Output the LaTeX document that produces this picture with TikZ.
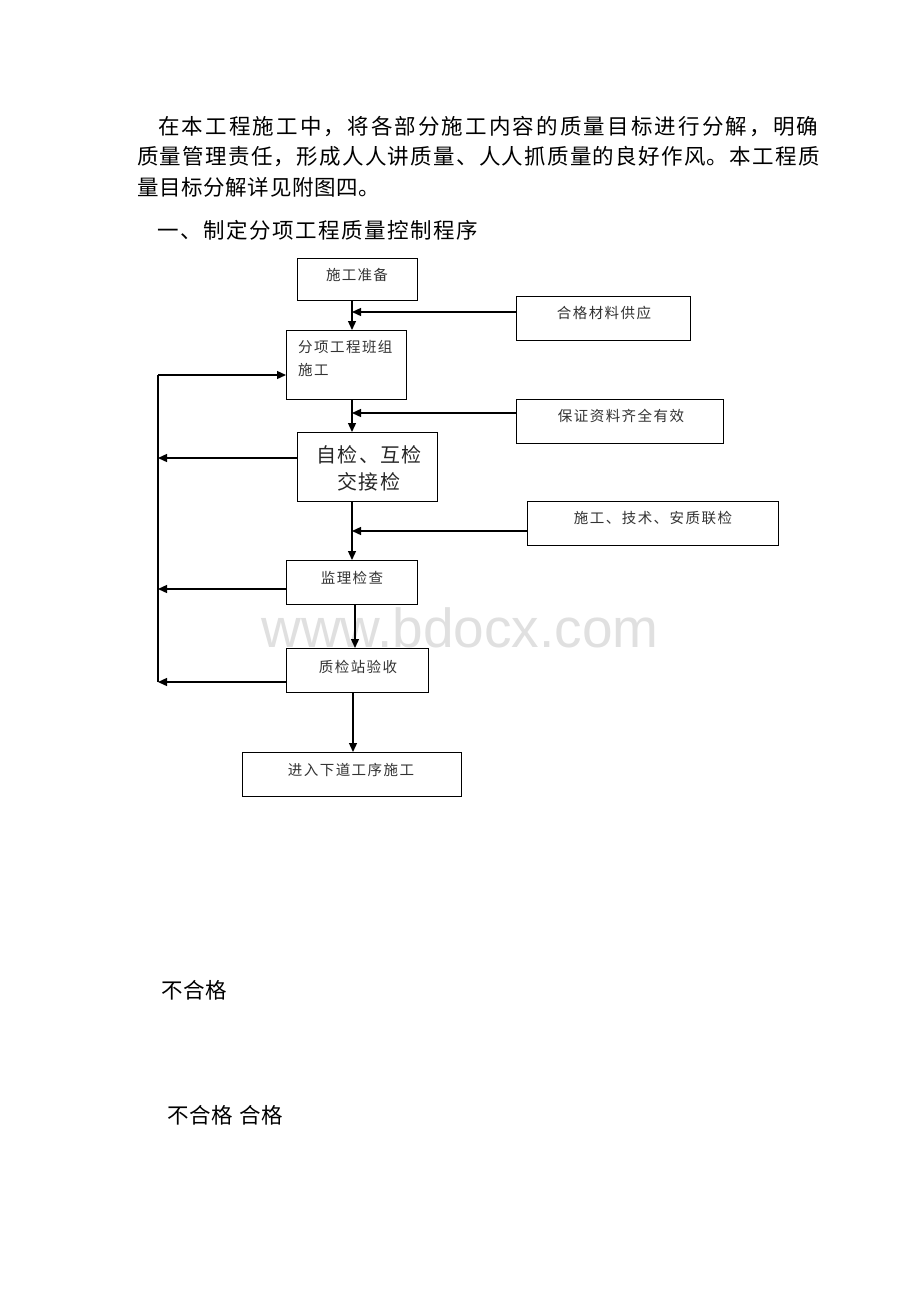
\documentclass[tikz,border=0pt]{standalone}
\usepackage{fontspec}
\setmainfont{Noto Sans CJK SC}
\newfontfamily\wmfont{Liberation Sans}
\usetikzlibrary{arrows.meta}
\newcommand\ls[2]{{\addfontfeature{LetterSpace=#1}#2}}
\begin{document}
\begin{tikzpicture}[x=1pt,y=-1pt,
  box/.style={draw=black,line width=1.2pt,inner sep=0pt,anchor=north west},
  para/.style={anchor=west,inner sep=0pt,font=\fontsize{21.5}{26}\selectfont,text=black},
  btxt/.style={inner sep=0pt,font=\fontsize{14.5}{23}\selectfont,text=black!80},
  arr/.style={line width=1.3pt,-{Triangle[length=9pt,width=8pt]}},
  ln/.style={line width=1.3pt}]
\fill[white] (0,0) rectangle (920,1302);
\useasboundingbox (0,0) rectangle (920,1302);
% watermark
\node[inner sep=0pt,text depth=0pt,text=black!12,font=\wmfont\fontsize{55}{60}\selectfont] (wm) at (460,628) {www.bdocx.com};
% paragraph
\node[para] (p1) at (158,127) {\ls{10}{在本工程施工中，将各部分施工内容的质量目标进行分解，明确}};
\node[para] (p2) at (137,157) {\ls{6}{质量管理责任，形成人人讲质量、人人抓质量的良好作风。本工程质}};
\node[para] (p3) at (137,187) {\ls{3}{量目标分解详见附图四。}};
\node[para] (p4) at (157,230) {\ls{7}{一、制定分项工程质量控制程序}};
% boxes
\node[box,minimum width=120pt,minimum height=42pt] (prep) at (297,258) {};
\node[box,minimum width=174pt,minimum height=44pt] (mat) at (516,296) {};
\node[box,minimum width=120pt,minimum height=69pt] (sub) at (286,330) {};
\node[box,minimum width=207pt,minimum height=44pt] (doc) at (516,399) {};
\node[box,minimum width=140pt,minimum height=69pt] (self) at (297,432) {};
\node[box,minimum width=251pt,minimum height=44pt] (tech) at (527,501) {};
\node[box,minimum width=131pt,minimum height=44pt] (sup) at (286,560) {};
\node[box,minimum width=142pt,minimum height=44pt] (qc) at (286,648) {};
\node[box,minimum width=219pt,minimum height=44pt] (next) at (242,752) {};
% box texts
\node[btxt] (tprep) at (357,275) {\ls{9}{施工准备}};
\node[btxt] (tmat) at (604,313) {\ls{10}{合格材料供应}};
\node[btxt,anchor=north west,align=left] (tsub) at (298,340) {\ls{10}{分项工程班组}\\\ls{10}{施工}};
\node[btxt] (tdoc) at (621,416) {\ls{10}{保证资料齐全有效}};
\node[inner sep=0pt,font=\fontsize{20}{27}\selectfont,text=black!85,align=center] (tself) at (369,468) {\ls{6}{自检、互检}\\\ls{6}{交接检}};
\node[btxt] (ttech) at (653,518) {\ls{10}{施工、技术、安质联检}};
\node[btxt] (tsup) at (352,578) {\ls{10}{监理检查}};
\node[btxt] (tqc) at (358,667) {\ls{10}{质检站验收}};
\node[btxt] (tnext) at (351,770) {\ls{10}{进入下道工序施工}};
% lower labels
\node[para] (f1) at (161,990) {\ls{4}{不合格}};
\node[para] (f2) at (167,1115) {\ls{4}{不合格 合格}};
% main line coordinates
\coordinate (mx) at (352,0);
\coordinate (mx2) at (355,0);
\coordinate (mx3) at (353,0);
\coordinate (lx) at (158,0);
% main flow
\draw[arr] (prep.south -| mx) -- (sub.north -| mx);
\draw[arr] (sub.south -| mx) -- (self.north -| mx);
\draw[arr] (self.south -| mx) -- (sup.north -| mx);
\draw[arr] (sup.south -| mx2) -- (qc.north -| mx2);
\draw[arr] (qc.south -| mx3) -- (next.north -| mx3);
% side inputs
\draw[arr] (mat.west |- 0,312) -- (mx |- 0,312);
\draw[arr] (doc.west |- 0,413) -- (mx |- 0,413);
\draw[arr] (tech.west |- 0,531) -- (mx |- 0,531);
% feedback loop
\draw[ln] (lx |- 0,682) -- (lx |- 0,375);
\draw[arr] (lx |- 0,375) -- (sub.west |- 0,375);
\draw[arr] (self.west |- 0,458) -- (lx |- 0,458);
\draw[arr] (sup.west |- 0,589) -- (lx |- 0,589);
\draw[arr] (qc.west |- 0,682) -- (lx |- 0,682);
\end{tikzpicture}
\end{document}
